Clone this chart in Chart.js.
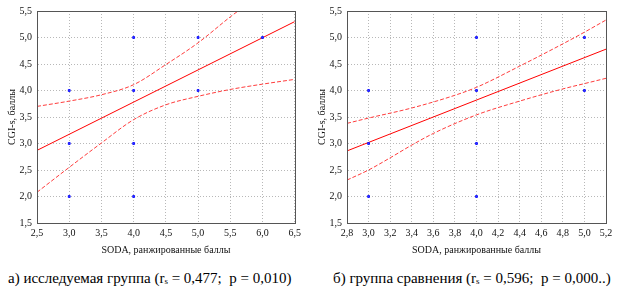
<!DOCTYPE html>
<html>
<head>
<meta charset="utf-8">
<script src="https://cdn.jsdelivr.net/npm/chart.js@4/dist/chart.umd.min.js"></script>
<style>
body { margin: 0; background: #fff; width: 624px; height: 298px; overflow: hidden; position: relative; font-family: "Liberation Serif", serif; }
canvas { position: absolute; top: 0; }
.cap { position: absolute; top: 270px; font-size: 15px; line-height: 17px; white-space: nowrap; color: #000; font-family: "Liberation Serif", serif; }
.cap sub { font-size: 9px; vertical-align: -1px; }
</style>
</head>
<body>
<canvas id="chartA" width="305" height="262" style="left:0"></canvas>
<canvas id="chartB" width="314" height="262" style="left:310px"></canvas>
<div class="cap" style="left:8px">а) исследуемая группа (r<sub>s</sub> = 0,477;&nbsp; p = 0,010)</div>
<div class="cap" style="left:333px">б) группа сравнения (r<sub>s</sub> = 0,596;&nbsp; p = 0,000..)</div>
<script>
// a) study group
const pointsAx = [3, 3, 3, 4, 4, 4, 4, 5, 5, 6];
const pointsAy = [4, 3, 2, 5, 4, 3, 2, 5, 4, 5];
const fitAx = [2.5, 6.5];
const fitAy = [2.87, 5.30];
const upperAx = [2.5, 3.0, 3.5, 4.0, 4.5, 5.0, 5.5, 5.62];
const upperAy = [3.70, 3.80, 3.92, 4.11, 4.49, 4.90, 5.39, 5.50];
const lowerAx = [2.5, 3.0, 3.5, 4.0, 4.5, 5.0, 5.5, 6.0, 6.5];
const lowerAy = [2.08, 2.55, 3.01, 3.45, 3.73, 3.89, 4.02, 4.12, 4.21];

// b) comparison group
const pointsBx = [3, 3, 3, 4, 4, 4, 4, 5, 5];
const pointsBy = [4, 3, 2, 5, 4, 3, 2, 5, 4];
const fitBx = [2.8, 5.2];
const fitBy = [2.86, 4.78];
const upperBx = [2.8, 3.0, 3.4, 3.8, 4.0, 4.4, 4.8, 5.0, 5.2];
const upperBy = [3.38, 3.48, 3.67, 3.91, 4.06, 4.46, 4.88, 5.10, 5.33];
const lowerBx = [2.8, 3.0, 3.2, 3.4, 3.6, 4.0, 4.4, 4.8, 5.0, 5.2];
const lowerBy = [2.31, 2.50, 2.73, 2.97, 3.19, 3.54, 3.80, 4.03, 4.13, 4.23];

const xTitle = 'SODA, ранжированные баллы';
const yTitle = 'CGI-s, баллы';

function xy(xs, ys) {
    return xs.map((x, i) => ({ x: x, y: ys[i] }));
}

function fmt(v) {
    return Number(v).toFixed(1).replace('.', ',');
}

// full frame around the plot area
const framePlugin = {
    id: 'frame',
    afterDraw(chart) {
        const a = chart.chartArea;
        const ctx = chart.ctx;
        ctx.save();
        ctx.strokeStyle = '#555';
        ctx.lineWidth = 1;
        ctx.strokeRect(Math.round(a.left) + 0.5, Math.round(a.top) + 0.5,
            Math.round(a.right - a.left), Math.round(a.bottom - a.top));
        ctx.restore();
    }
};

const tickFont = { family: '"Liberation Serif", serif', size: 10 };

function makeChart(id, pts, fit, upper, lower, xMin, xMax, xStep, padRight) {
    const ctx = document.getElementById(id).getContext('2d');
    const dash = { type: 'scatter', showLine: true, borderColor: '#ff3c3c', borderWidth: 1,
        borderDash: [4, 2], pointRadius: 0, cubicInterpolationMode: 'monotone', fill: false };
    return new Chart(ctx, {
        type: 'scatter',
        data: {
            datasets: [
                { data: pts, pointStyle: 'rect', pointRadius: 1.3, backgroundColor: '#4a4aff',
                  borderColor: '#1010ff', borderWidth: 1, showLine: false },
                { data: fit, showLine: true, borderColor: '#ff0000', borderWidth: 1, pointRadius: 0 },
                Object.assign({ data: upper }, dash),
                Object.assign({ data: lower }, dash)
            ]
        },
        options: {
            responsive: false,
            animation: false,
            layout: { padding: { top: 8, right: padRight, left: 0, bottom: 0 } },
            plugins: { legend: { display: false }, tooltip: { enabled: false } },
            scales: {
                x: {
                    type: 'linear', min: xMin, max: xMax,
                    afterFit(s) { s.height = 39; },
                    ticks: { stepSize: xStep, color: '#111', font: tickFont, padding: 4,
                        maxRotation: 0, autoSkip: false, callback: fmt },
                    grid: { color: '#b8b8b8', drawTicks: false },
                    border: { color: '#555', dash: [1, 2] },
                    title: { display: true, text: xTitle, color: '#111', font: tickFont,
                        padding: { top: 0, bottom: 6 } }
                },
                y: {
                    type: 'linear', min: 1.5, max: 5.5,
                    afterFit(s) { s.width = 37; },
                    ticks: { stepSize: 0.5, color: '#111', font: tickFont, padding: 5, callback: fmt },
                    grid: { color: '#b8b8b8', drawTicks: false },
                    border: { color: '#555', dash: [1, 2] },
                    title: { display: true, text: yTitle, color: '#111', font: tickFont,
                        padding: { top: 6, bottom: 0 } }
                }
            }
        },
        plugins: [framePlugin]
    });
}

makeChart('chartA', xy(pointsAx, pointsAy), xy(fitAx, fitAy), xy(upperAx, upperAy),
    xy(lowerAx, lowerAy), 2.5, 6.5, 0.5, 9);
makeChart('chartB', xy(pointsBx, pointsBy), xy(fitBx, fitBy), xy(upperBx, upperBy),
    xy(lowerBx, lowerBy), 2.8, 5.2, 0.2, 18);
</script>
</body>
</html>
